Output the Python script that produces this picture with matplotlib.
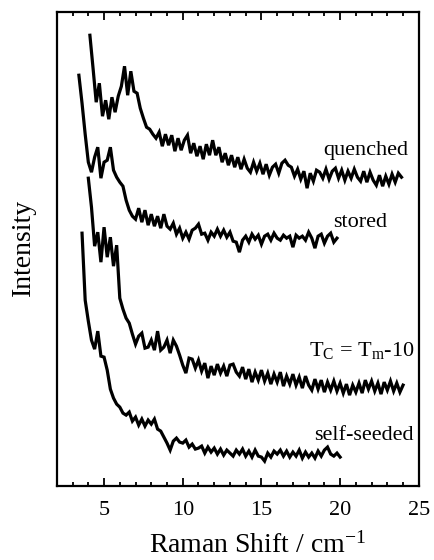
import numpy as np
import matplotlib
matplotlib.use("Agg")
import matplotlib.pyplot as plt
from matplotlib.ticker import MultipleLocator

plt.rcParams['font.family'] = ['Liberation Serif', 'DejaVu Serif']
plt.rcParams['mathtext.fontset'] = 'custom'
plt.rcParams['mathtext.rm'] = 'Liberation Serif'
plt.rcParams['mathtext.it'] = 'Liberation Serif:italic'

# low-frequency Raman spectra, sampled every 0.2 cm-1 from each start shift
step = 0.2

quenched_start = 4.1
quenched = [
    451, 418, 384, 403, 370, 386, 367, 389, 374, 390,
    400, 420, 391, 415, 395, 393, 378, 368, 359, 357,
    352, 348, 354, 340, 352, 341, 351, 335, 348, 336,
    346, 351, 333, 343, 330, 340, 327, 342, 331, 346,
    331, 339, 324, 333, 321, 331, 319, 329, 317, 327,
    318, 314, 324, 315, 323, 312, 322, 311, 319, 322,
    313, 323, 326, 321, 319, 310, 317, 307, 315, 298,
    313, 305, 316, 314, 308, 317, 307, 315, 318, 308,
    316, 306, 315, 308, 317, 309, 305, 315, 304, 314,
    306, 301, 311, 300, 310, 302, 312, 304, 313, 309,
]

stored_start = 3.4
stored = [
    411, 383, 352, 324, 314, 329, 339, 308, 324, 326,
    339, 316, 309, 304, 300, 286, 276, 270, 267, 278,
    264, 276, 261, 272, 260, 270, 258, 272, 260, 257,
    263, 252, 258, 248, 254, 247, 256, 258, 262, 252,
    253, 246, 254, 250, 257, 250, 256, 249, 254, 245,
    244, 234, 246, 250, 244, 252, 247, 251, 242, 250,
    252, 246, 253, 248, 246, 251, 248, 250, 239, 251,
    248, 250, 246, 254, 248, 238, 250, 252, 243, 250,
    253, 244, 248,
]

tc_start = 4.0
tc = [
    308, 279, 240, 254, 224, 259, 229, 249, 220, 241,
    188, 177, 168, 163, 152, 142, 150, 153, 138, 139,
    146, 136, 155, 136, 139, 146, 133, 146, 140, 131,
    121, 113, 128, 127, 118, 126, 115, 123, 108, 120,
    111, 122, 113, 120, 110, 121, 122, 114, 110, 119,
    107, 117, 104, 114, 106, 116, 105, 113, 102, 112,
    104, 114, 100, 110, 102, 112, 101, 109, 98, 110,
    101, 96, 107, 97, 106, 94, 104, 96, 105, 95,
    103, 93, 102, 91, 101, 94, 103, 93, 106, 97,
    105, 95, 103, 92, 104, 96, 105, 95, 103, 94,
    101,
]

selfseeded_start = 3.6
selfseeded = [
    253, 186, 165, 146, 137, 155, 130, 129, 116, 97,
    88, 82, 79, 73, 71, 74, 65, 69, 61, 67,
    60, 66, 62, 67, 57, 55, 49, 43, 36, 45,
    48, 44, 43, 46, 39, 42, 37, 38, 40, 33,
    39, 34, 38, 32, 37, 31, 36, 33, 30, 36,
    32, 37, 30, 35, 29, 36, 30, 29, 25, 33,
    29, 35, 32, 36, 30, 35, 29, 34, 30, 36,
    28, 34, 29, 33, 28, 35, 30, 36, 39, 32,
    30, 33, 29,
]

series = [
    (quenched_start, quenched),
    (stored_start, stored),
    (tc_start, tc),
    (selfseeded_start, selfseeded),
]

labels = ['quenched', 'stored', r'T$_\mathrm{C}$ = T$_\mathrm{m}$-10', 'self-seeded']
label_x = [21.6, 21.3, 21.4, 21.5]
label_y = [336, 264, 136, 51]

fig = plt.figure(figsize=(4.34, 5.60), dpi=100)
ax = fig.add_axes([0.131, 0.132, 0.834, 0.847])

for start, values in series:
    shift = start + step * np.arange(len(values))
    ax.plot(shift, values, color='black', lw=2.3, solid_joinstyle='miter')

for x, y, s in zip(label_x, label_y, labels):
    ax.text(x, y, s, ha='center', va='center', fontsize=16)

ax.set_xlim(2, 25)
ax.set_ylim(0, 474.5)
ax.xaxis.set_major_locator(MultipleLocator(5))
ax.xaxis.set_minor_locator(MultipleLocator(1))
ax.tick_params(axis='x', which='both', direction='in', top=True, labelsize=16, pad=11)
ax.tick_params(axis='x', which='major', length=6, width=1.3)
ax.tick_params(axis='x', which='minor', length=3, width=1.3)
ax.set_yticks([])
for sp in ax.spines.values():
    sp.set_linewidth(1.6)

fig.text(257 / 434, 1 - 545 / 560, r'Raman Shift / cm$^{-1}$', ha='center', va='center', fontsize=20)
fig.text(23 / 434, 1 - 247 / 560, 'Intensity', ha='center', va='center', rotation=90, fontsize=20)

fig.savefig('out.png', dpi=100)
